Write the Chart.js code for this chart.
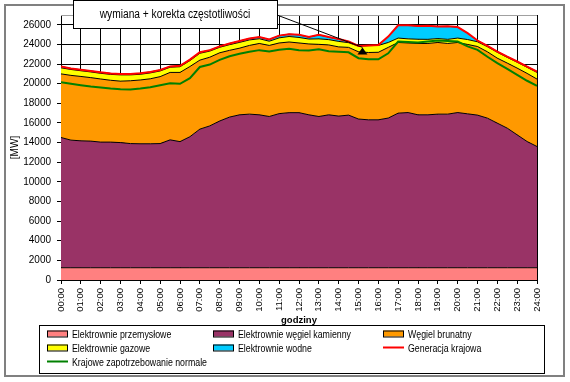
<!DOCTYPE html>
<html>
<head>
<meta charset="utf-8">
<script src="https://cdn.jsdelivr.net/npm/chart.js@4.4.0/dist/chart.umd.min.js"></script>
<style>
    html, body { margin: 0; padding: 0; background: #fff; }
    #wrap { width: 570px; height: 382px; position: relative; }
    canvas { background: #fff; }
</style>
</head>
<body>
<div id="wrap"><canvas id="myChart"></canvas></div>
<script>
// godziny (co pół godziny)
const hours = [0, 0.5, 1, 1.5, 2, 2.5, 3, 3.5, 4, 4.5, 5, 5.5, 6, 6.5, 7, 7.5, 8, 8.5, 9, 9.5, 10, 10.5, 11, 11.5, 12,
    12.5, 13, 13.5, 14, 14.5, 15, 15.5, 16, 16.5, 17, 17.5, 18, 18.5, 19, 19.5, 20, 20.5, 21, 21.5, 22, 22.5, 23, 23.5, 24];

const yTicks = [0, 2000, 4000, 6000, 8000, 10000, 12000, 14000, 16000, 18000, 20000, 22000, 24000, 26000];

const przemyslowe = [1250, 1250, 1250, 1250, 1250, 1250, 1250, 1250, 1250, 1250, 1250, 1250, 1250, 1250, 1250, 1250, 1250,
    1250, 1250, 1250, 1250, 1250, 1250, 1250, 1250, 1250, 1250, 1250, 1250, 1250, 1250, 1250, 1250, 1250, 1250, 1250, 1250,
    1250, 1250, 1250, 1250, 1250, 1250, 1250, 1250, 1250, 1250, 1250, 1250];

const kamienny = [13270, 13000, 12930, 12900, 12800, 12800, 12750, 12650, 12630, 12630, 12650, 13030, 12850, 13350, 14120,
    14450, 14950, 15350, 15580, 15650, 15580, 15410, 15700, 15800, 15800, 15580, 15410, 15580, 15450, 15550, 15150, 15070,
    15070, 15250, 15750, 15810, 15580, 15580, 15650, 15650, 15810, 15680, 15550, 15240, 14730, 14220, 13540, 12860, 12350];

const brunatny = [6480, 6600, 6560, 6470, 6430, 6300, 6260, 6400, 6500, 6620, 6820, 6870, 7050, 7150, 7030, 7000, 6950,
    6800, 6790, 7000, 7270, 7240, 7200, 7200, 7100, 7220, 7350, 7120, 7050, 6900, 6850, 6860, 6880, 7200, 7200, 7090, 7270,
    7270, 7300, 7200, 7140, 7070, 6990, 6760, 6620, 6630, 6800, 6940, 6870];

const gazowe = [620, 600, 580, 580, 580, 600, 640, 600, 580, 600, 580, 530, 580, 600, 700, 620, 560, 580, 590, 560, 480,
    430, 520, 560, 560, 500, 560, 540, 560, 480, 580, 700, 700, 500, 450, 420, 430, 420, 400, 420, 450, 500, 480, 520, 600,
    580, 600, 620, 680];

const wodne = [140, 100, 100, 100, 100, 100, 100, 100, 100, 100, 100, 80, 90, 100, 100, 100, 90, 120, 140, 140, 170, 170,
    230, 240, 270, 200, 410, 260, 240, 120, 20, 20, 50, 600, 1300, 1380, 1350, 1380, 1240, 1330, 1120, 650, 130, 80, 80, 70,
    70, 80, 90];

const generacja = [21760, 21550, 21420, 21300, 21160, 21050, 21000, 21000, 21060, 21200, 21400, 21760, 21820, 22450, 23200,
    23420, 23800, 24100, 24350, 24600, 24750, 24500, 24900, 25050, 24980, 24750, 24980, 24750, 24550, 24300, 23850, 23900,
    23950, 24800, 25950, 25950, 25880, 25900, 25840, 25850, 25770, 25150, 24400, 23850, 23280, 22750, 22260, 21750, 21240];

const zapotrzebowanie = [20150, 20000, 19850, 19720, 19620, 19500, 19430, 19420, 19520, 19650, 19850, 20050, 19990, 20560,
    21700, 21950, 22430, 22800, 23050, 23250, 23420, 23280, 23450, 23550, 23420, 23380, 23500, 23300, 23250, 23200, 22600,
    22480, 22480, 23100, 24300, 24250, 24200, 24300, 24400, 24350, 24300, 23800, 23450, 22750, 22090, 21500, 20900, 20300, 19780];

// adnotacja: godzina i wartość grotu strzałki
const markHour = 15.2;
const markValue = 23700;
const markText = 'wymiana + korekta częstotliwości';

const FONT = "'Liberation Sans', Arial, sans-serif";

function pts(series) {
    return hours.map((h, i) => ({ x: h, y: series[i] }));
}

function area(label, series, color, first) {
    return {
        label: label,
        data: pts(series),
        backgroundColor: color,
        borderColor: '#000',
        borderWidth: 1,
        fill: first ? 'origin' : '-1',
        stack: 'gen',
        order: 1,
        pointRadius: 0,
        tension: 0,
        _kind: 'box'
    };
}

function line(label, series, color, stack) {
    return {
        label: label,
        data: pts(series),
        borderColor: color,
        backgroundColor: color,
        borderWidth: 2,
        fill: false,
        stack: stack,
        order: 0,
        pointRadius: 0,
        tension: 0,
        _kind: 'line'
    };
}

// tekst zwężony (jak Arial Narrow)
function narrowText(c, text, x, y, sx) {
    c.save();
    c.translate(x, y);
    c.scale(sx, 1);
    c.fillText(text, 0, 0);
    c.restore();
}

// ramka, adnotacja i legenda
const decorations = {
    id: 'decorations',
    afterDraw(chart) {
        const c = chart.ctx;
        const a = chart.chartArea;
        const xs = chart.scales.x, ys = chart.scales.y;
        c.save();

        // ramka zewnętrzna
        c.strokeStyle = '#808080';
        c.lineWidth = 2;
        c.strokeRect(5, 5, 559, 371);

        // górna krawędź obszaru wykresu
        c.strokeStyle = '#a0a0a0';
        c.lineWidth = 1;
        c.beginPath();
        c.moveTo(a.left, a.top + 0.5);
        c.lineTo(a.right, a.top + 0.5);
        c.stroke();

        // strzałka
        const tx = xs.getPixelForValue(markHour);
        const ty = ys.getPixelForValue(markValue);
        c.strokeStyle = '#000';
        c.lineWidth = 1;
        c.beginPath();
        c.moveTo(277, 15);
        c.lineTo(tx, ty);
        c.stroke();
        c.fillStyle = '#000';
        c.beginPath();
        c.moveTo(tx, ty);
        c.lineTo(tx - 5, ty + 7);
        c.lineTo(tx + 5, ty + 7);
        c.closePath();
        c.fill();

        // pole tekstowe
        c.fillStyle = '#fff';
        c.fillRect(73, 0, 204, 28);
        c.strokeStyle = '#000';
        c.strokeRect(73.5, 0.5, 204, 28);
        c.fillStyle = '#000';
        c.font = '12px ' + FONT;
        c.textAlign = 'center';
        c.textBaseline = 'middle';
        narrowText(c, markText, 175, 15, 0.85);

        // legenda
        c.fillStyle = '#fff';
        c.fillRect(39, 325, 505, 48);
        c.strokeStyle = '#000';
        c.strokeRect(39.5, 325.5, 505, 48);
        const cols = [47, 213, 383];
        const rows = [333.5, 347.5, 361.5];
        c.font = '11px ' + FONT;
        c.textAlign = 'left';
        chart.data.datasets.forEach((ds, i) => {
            const x = cols[i % 3];
            const y = rows[Math.floor(i / 3)];
            if (ds._kind === 'box') {
                c.fillStyle = ds.backgroundColor;
                c.fillRect(x, y - 3, 21, 6);
                c.strokeStyle = '#000';
                c.lineWidth = 1;
                c.strokeRect(x + 0.5, y - 2.5, 20, 6);
            } else {
                c.strokeStyle = ds.borderColor;
                c.lineWidth = 2;
                c.beginPath();
                c.moveTo(x, y);
                c.lineTo(x + 21, y);
                c.stroke();
            }
            c.fillStyle = '#000';
            narrowText(c, ds.label, x + 25, y + 1, 0.8);
        });
        c.restore();
    }
};

const ctx = document.getElementById('myChart');

const myChart = new Chart(ctx, {
    type: 'line',
    data: {
        datasets: [
            area('Elektrownie przemysłowe', przemyslowe, '#FF8080', true),
            area('Elektrownie węgiel kamienny', kamienny, '#993366', false),
            area('Węgiel brunatny', brunatny, '#FF9900', false),
            area('Elektrownie gazowe', gazowe, '#FFFF00', false),
            area('Elektrownie wodne', wodne, '#00CCFF', false),
            line('Generacja krajowa', generacja, '#FF0000', 'gen_line'),
            line('Krajowe zapotrzebowanie normale', zapotrzebowanie, '#008000', 'zap_line')
        ]
    },
    options: {
        responsive: true,
        maintainAspectRatio: false,
        animation: false,
        devicePixelRatio: 1,
        layout: {
            padding: { left: 5, top: 15, right: 33, bottom: 52 }
        },
        plugins: {
            legend: { display: false },
            tooltip: { enabled: false }
        },
        scales: {
            x: {
                type: 'linear',
                min: 0,
                max: 24,
                ticks: {
                    stepSize: 1,
                    autoSkip: false,
                    minRotation: 90,
                    maxRotation: 90,
                    padding: 4,
                    color: '#000',
                    font: { family: FONT, size: 9.5 },
                    callback: v => (v < 10 ? '0' : '') + v + ':00'
                },
                grid: { display: true, drawOnChartArea: true, color: 'rgba(0,0,0,1)', lineWidth: 1, tickLength: 4, z: 0 },
                border: { color: '#000' },
                title: {
                    display: true,
                    text: 'godziny',
                    color: '#000',
                    font: { family: FONT, size: 9.5, weight: 'bold' },
                    padding: { top: 0, bottom: 4 }
                },
                afterFit: s => { s.height = 50; }
            },
            y: {
                stacked: true,
                min: 0,
                max: 27000,
                afterBuildTicks: s => { s.ticks = yTicks.map(v => ({ value: v })); },
                ticks: {
                    padding: 6,
                    color: '#000',
                    font: { family: FONT, size: 10 },
                    callback: v => String(v)
                },
                grid: { display: true, drawOnChartArea: true, color: 'rgba(0,0,0,1)', lineWidth: 1, tickLength: 4, z: 0 },
                border: { color: '#000' },
                title: {
                    display: true,
                    text: '[MW]',
                    color: '#000',
                    font: { family: FONT, size: 10 },
                    padding: { top: 4, bottom: 4 }
                },
                afterFit: s => { s.width = 56; }
            }
        }
    },
    plugins: [decorations]
});
</script>
</body>
</html>
